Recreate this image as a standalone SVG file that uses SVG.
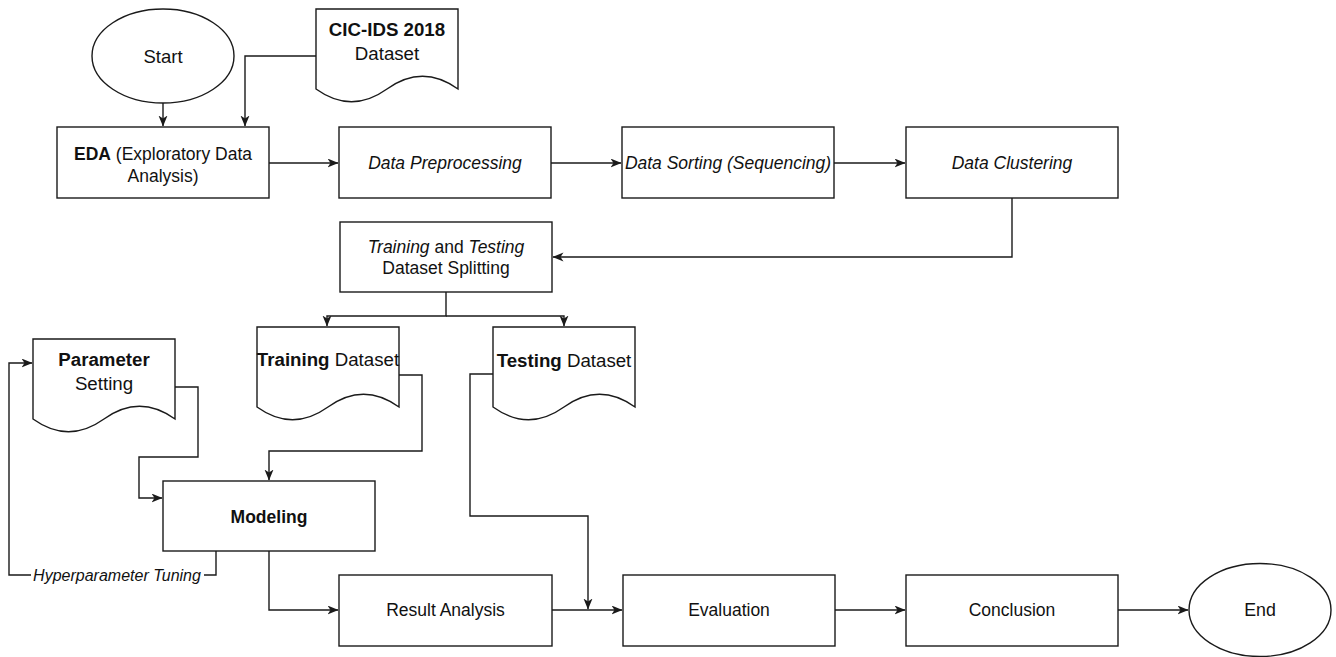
<svg xmlns="http://www.w3.org/2000/svg" width="1336" height="657" viewBox="0 0 1336 657">
<style>
.s{fill:#fff;stroke:#1a1a1a;stroke-width:1.4}
.c{fill:none;stroke:#1a1a1a;stroke-width:1.4}
text{font-family:"Liberation Sans",Arial,Helvetica,sans-serif;font-size:17.5px;fill:#111;text-anchor:middle}
.b{font-weight:bold}
.i{font-style:italic}
.d{font-size:18.7px}
.lbl{font-size:16px;font-style:italic}
</style>
<defs>
<marker id="a" markerUnits="userSpaceOnUse" markerWidth="12" markerHeight="10" refX="10.5" refY="4.5" orient="auto">
<path d="M0,0 L11,4.5 L0,9 L3,4.5 Z" fill="#1a1a1a"/>
</marker>
</defs>
<g id="connectors">
<path class="c" d="M163,103 V126" marker-end="url(#a)"/>
<path class="c" d="M316,56 H245 V126" marker-end="url(#a)"/>
<path class="c" d="M269,163 H338" marker-end="url(#a)"/>
<path class="c" d="M551,163 H621" marker-end="url(#a)"/>
<path class="c" d="M834,163 H905" marker-end="url(#a)"/>
<path class="c" d="M1012,198 V257 H553" marker-end="url(#a)"/>
<path class="c" d="M446,292 V316 H327 V326" marker-end="url(#a)"/>
<path class="c" d="M446,316 H564 V326" marker-end="url(#a)"/>
<path class="c" d="M175,387 H198 V457 H139 V498 H162" marker-end="url(#a)"/>
<path class="c" d="M399,375 H422 V451 H269 V480" marker-end="url(#a)"/>
<path class="c" d="M216,551 V575 H9 V363 H32" marker-end="url(#a)"/>
<path class="c" d="M269,551 V610 H338" marker-end="url(#a)"/>
<path class="c" d="M552,610 H622" marker-end="url(#a)"/>
<path class="c" d="M493,374 H470 V516 H588 V609" marker-end="url(#a)"/>
<path class="c" d="M835,610 H905" marker-end="url(#a)"/>
<path class="c" d="M1118,610 H1188" marker-end="url(#a)"/>
<rect x="31" y="566" width="173" height="18" fill="#fff"/>
<text class="lbl" x="117" y="581">Hyperparameter Tuning</text>
</g>
<g id="start">
<ellipse class="s" cx="163" cy="56" rx="71" ry="47"/>
<text x="163" y="62.5" style="font-size:18.5px">Start</text>
</g>
<g id="cicids">
<path class="s" d="M316,9 H458 V89 Q422.5,63.5 387,89 Q351.5,114.5 316,89 Z"/>
<text class="b d" x="387" y="35.5">CIC-IDS 2018</text>
<text class="d" x="387" y="59.5">Dataset</text>
</g>
<g id="eda">
<rect class="s" x="57" y="127" width="212" height="71"/>
<text x="163" y="160"><tspan class="b">EDA</tspan> (Exploratory Data</text>
<text x="163" y="182">Analysis)</text>
</g>
<g id="preprocessing">
<rect class="s" x="339" y="127" width="212" height="71"/>
<text class="i" x="445" y="169">Data Preprocessing</text>
</g>
<g id="sorting">
<rect class="s" x="622" y="127" width="212" height="71"/>
<text class="i" x="728" y="169">Data Sorting (Sequencing)</text>
</g>
<g id="clustering">
<rect class="s" x="906" y="127" width="212" height="71"/>
<text class="i" x="1012" y="169">Data Clustering</text>
</g>
<g id="splitting">
<rect class="s" x="340" y="222" width="212" height="70"/>
<text x="446" y="253"><tspan class="i">Training</tspan> and <tspan class="i">Testing</tspan></text>
<text x="446" y="274">Dataset Splitting</text>
</g>
<g id="parameter">
<path class="s" d="M33,339 H175 V419 Q139.5,393.5 104,419 Q68.5,444.5 33,419 Z"/>
<text class="b d" x="104" y="365.5">Parameter</text>
<text class="d" x="104" y="389.5">Setting</text>
</g>
<g id="training">
<path class="s" d="M257,327 H399 V407 Q363.5,381.5 328,407 Q292.5,432.5 257,407 Z"/>
<text class="d" x="328" y="365.5"><tspan class="b">Training</tspan> Dataset</text>
</g>
<g id="testing">
<path class="s" d="M493,327 H635 V407 Q599.5,381.5 564,407 Q528.5,432.5 493,407 Z"/>
<text class="d" x="564" y="366.5"><tspan class="b">Testing</tspan> Dataset</text>
</g>
<g id="modeling">
<rect class="s" x="163" y="481" width="212" height="70"/>
<text class="b" x="269" y="523">Modeling</text>
</g>
<g id="result">
<rect class="s" x="339" y="575" width="213" height="71"/>
<text x="445.5" y="616">Result Analysis</text>
</g>
<g id="evaluation">
<rect class="s" x="623" y="575" width="212" height="71"/>
<text x="729" y="616">Evaluation</text>
</g>
<g id="conclusion">
<rect class="s" x="906" y="575" width="212" height="71"/>
<text x="1012" y="616">Conclusion</text>
</g>
<g id="end">
<ellipse class="s" cx="1260" cy="610" rx="71" ry="46.5"/>
<text x="1260" y="616" style="font-size:17.8px">End</text>
</g>
</svg>
